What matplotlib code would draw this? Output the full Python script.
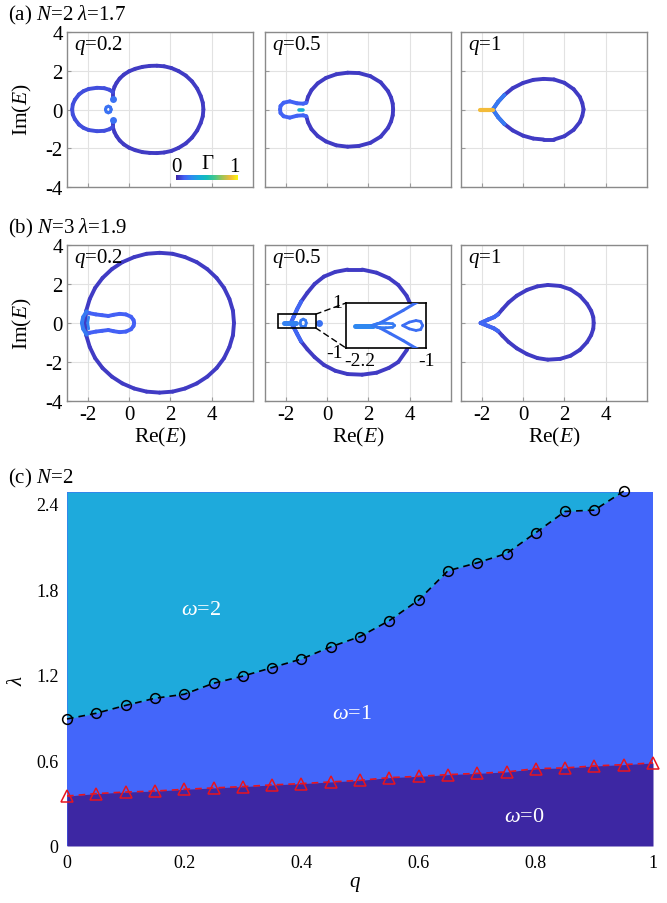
import numpy as np
import matplotlib
matplotlib.use("Agg")
import matplotlib.pyplot as plt
from matplotlib.collections import LineCollection
from matplotlib.colors import LinearSegmentedColormap
from matplotlib.patches import Rectangle, ConnectionPatch

plt.rcParams['font.family'] = ['Liberation Serif', 'DejaVu Serif']
plt.rcParams['mathtext.fontset'] = 'custom'
plt.rcParams['mathtext.rm'] = 'Liberation Serif'
plt.rcParams['mathtext.it'] = 'Liberation Serif:italic'
plt.rcParams['axes.unicode_minus'] = False

# parula-like colour map for Gamma
parula = LinearSegmentedColormap.from_list("parula_like", [
    (0.0, '#3E26A8'), (0.13, '#4360F5'), (0.25, '#2D8CF0'), (0.38, '#15ADD9'),
    (0.5, '#14BEB8'), (0.63, '#48C88A'), (0.75, '#A2C455'), (0.88, '#F3BA3A'),
    (1.0, '#F9FB0E')])

# ---------------- data: panel (a), N=2, lambda=1.7 ----------------
a1_big_re = [-0.78, -0.78, -0.7, -0.6, -0.45, -0.25, 0.0, 0.3, 0.65, 1.0, 1.35, 1.7, 2.05, 2.4,
             2.75, 3.05, 3.3, 3.47, 3.57, 3.6,
             3.57, 3.47, 3.3, 3.05, 2.75, 2.4, 2.05, 1.7, 1.35, 1.0, 0.65, 0.3, 0.0, -0.25,
             -0.45, -0.6, -0.7, -0.78, -0.78]
a1_big_im = [0.52, 0.92, 1.18, 1.38, 1.6, 1.8, 1.97, 2.1, 2.2, 2.25, 2.26, 2.23, 2.14, 1.98,
             1.75, 1.45, 1.08, 0.7, 0.35, 0.0,
             -0.35, -0.7, -1.08, -1.45, -1.75, -1.98, -2.14, -2.22, -2.25, -2.24, -2.2, -2.1,
             -1.97, -1.8, -1.6, -1.38, -1.18, -0.92, -0.52]
a1_lobe_re = [-0.78, -0.95, -1.2, -1.55, -1.95, -2.2, -2.42, -2.62, -2.72, -2.75,
              -2.72, -2.62, -2.42, -2.2, -1.95, -1.55, -1.2, -0.95, -0.78]
a1_lobe_im = [0.9, 1.02, 1.1, 1.12, 1.06, 0.95, 0.78, 0.5, 0.26, 0.0,
              -0.26, -0.5, -0.78, -0.95, -1.06, -1.12, -1.1, -1.02, -0.9]
a1_ring_re = [-0.86, -0.9, -1.0, -1.1, -1.14, -1.1, -1.0, -0.9, -0.86]
a1_ring_im = [0.0, 0.12, 0.17, 0.12, 0.0, -0.12, -0.17, -0.12, 0.0]
a1_dot_re = [-0.78, -0.78]
a1_dot_im = [0.52, -0.52]

a2_big_re = [-1.0, -0.92, -0.75, -0.45, -0.05, 0.45, 1.0, 1.55, 2.1, 2.6, 2.95, 3.1, 3.18, 3.2,
             3.18, 3.1, 2.95, 2.6, 2.1, 1.55, 1.0, 0.45, -0.05, -0.45, -0.75, -0.92, -1.0]
a2_big_im = [0.35, 0.65, 1.0, 1.35, 1.63, 1.82, 1.9, 1.88, 1.72, 1.4, 0.95, 0.62, 0.3, 0.0,
             -0.3, -0.62, -0.95, -1.4, -1.72, -1.88, -1.92, -1.85, -1.65, -1.37, -1.02, -0.66,
             -0.35]
a2_lobe_re = [-1.0, -1.15, -1.45, -1.8, -2.1, -2.25, -2.27, -2.25, -2.1, -1.8, -1.45, -1.15, -1.0]
a2_lobe_im = [0.35, 0.3, 0.32, 0.42, 0.35, 0.18, 0.0, -0.18, -0.35, -0.42, -0.32, -0.3, -0.35]
a2_dash_re = [-1.35, -1.15]
a2_dash_im = [0.0, 0.0]

a3_re = [-1.46, -1.2, -0.9, -0.5, 0.0, 0.5, 1.0, 1.5, 2.0, 2.45, 2.75, 2.87, 2.93,
         2.87, 2.75, 2.45, 2.0, 1.5, 1.0, 0.5, 0.0, -0.5, -0.9, -1.2, -1.46]
a3_im = [0.0, 0.4, 0.75, 1.1, 1.37, 1.53, 1.58, 1.55, 1.38, 1.05, 0.65, 0.33, 0.0,
         -0.33, -0.65, -1.05, -1.38, -1.55, -1.55, -1.5, -1.35, -1.08, -0.75, -0.4, 0.0]
a3_cusp_re = [-0.9, -1.2, -1.46, -1.2, -0.9]
a3_cusp_im = [0.75, 0.4, 0.0, -0.4, -0.75]
a3_tail_re = [-2.07, -1.46]
a3_tail_im = [0.0, 0.0]

# ---------------- data: panel (b), N=3, lambda=1.9 ----------------
b1_big_re = [5.08, 5.03, 4.86, 4.6, 4.24, 3.79, 3.28, 2.71, 2.11, 1.48, 0.85, 0.25, -0.32, -0.83,
             -1.28, -1.64, -1.9, -2.07, -2.12,
             -2.07, -1.9, -1.64, -1.28, -0.83, -0.32, 0.25, 0.85, 1.48, 2.11, 2.71, 3.28, 3.79,
             4.24, 4.6, 4.86, 5.03, 5.08]
b1_big_im = [0.0, 0.63, 1.23, 1.8, 2.31, 2.76, 3.12, 3.38, 3.55, 3.6, 3.55, 3.38, 3.12, 2.76,
             2.31, 1.8, 1.23, 0.63, 0.0,
             -0.63, -1.23, -1.8, -2.31, -2.75, -3.1, -3.36, -3.52, -3.57, -3.52, -3.36, -3.1,
             -2.75, -2.31, -1.8, -1.23, -0.63, 0.0]
b1_in_re = [-2.05, -1.9, -1.6, -1.3, -1.0, -0.75, -0.45, -0.15, 0.1, 0.22, 0.25,
            0.22, 0.1, -0.15, -0.45, -0.75, -1.0, -1.3, -1.6, -1.9, -2.05]
b1_in_im = [0.55, 0.5, 0.44, 0.4, 0.36, 0.42, 0.47, 0.44, 0.32, 0.15, 0.0,
            -0.15, -0.32, -0.44, -0.47, -0.42, -0.36, -0.4, -0.44, -0.5, -0.55]
b1_left_re = [-2.05, -2.22, -2.28, -2.22, -2.05]
b1_left_im = [0.6, 0.3, 0.0, -0.3, -0.6]
b1_mid_re = [-1.95, -2.0, -1.95]
b1_mid_im = [0.3, 0.0, -0.3]

b2_big_re = [-1.75, -1.62, -1.45, -1.25, -0.95, -0.6, -0.15, 0.4, 1.0, 1.7, 2.4, 3.0, 3.45, 3.85,
             4.15, 4.3, 4.15, 3.85, 3.45, 3.0, 2.4, 1.7, 1.0, 0.4, -0.15, -0.6, -0.95, -1.25,
             -1.45, -1.62, -1.75]
b2_big_im = [0.0, 0.3, 0.7, 1.1, 1.55, 2.0, 2.38, 2.62, 2.74, 2.74, 2.58, 2.3, 1.95, 1.4,
             0.7, 0.0, -0.7, -1.4, -2.0, -2.3, -2.55, -2.65, -2.62, -2.45, -2.15, -1.75, -1.35,
             -0.95, -0.55, -0.2, 0.0]
b2_cusp_re = [-1.25, -1.45, -1.62, -1.75, -1.62, -1.45, -1.25]
b2_cusp_im = [1.1, 0.7, 0.3, 0.0, -0.2, -0.55, -0.95]
b2_line_re = [-2.1, -1.5]
b2_line_im = [0.0, 0.0]
b2_ring_re = [-1.0, -1.04, -1.15, -1.26, -1.3, -1.26, -1.15, -1.04, -1.0]
b2_ring_im = [0.0, 0.14, 0.2, 0.14, 0.0, -0.14, -0.2, -0.14, 0.0]
b2_dot_re = [-0.4]
b2_dot_im = [0.0]
b2_box = [-2.35, -0.55, -0.25, 0.45]   # x0, x1, y0, y1 of zoom box

# inset of b2
ins_up_re = [-1.1, -1.158, -1.343, -1.54, -1.69, -1.81]
ins_up_im = [1.08, 1.0, 0.67, 0.35, 0.11, 0.0]
ins_dn_re = [-1.81, -1.69, -1.54, -1.343, -1.158, -1.1]
ins_dn_im = [0.0, -0.11, -0.35, -0.67, -1.0, -1.08]
ins_blob_re = [-2.06, -1.8]
ins_blob_im = [0.0, 0.0]
ins_loop1_re = [-1.81, -1.72, -1.6, -1.5, -1.47, -1.5, -1.6, -1.72, -1.81]
ins_loop1_im = [0.0, 0.09, 0.1, 0.08, 0.0, -0.08, -0.1, -0.09, 0.0]
ins_loop2_re = [-1.35, -1.25, -1.15, -1.08, -1.05, -1.08, -1.15, -1.25, -1.35]
ins_loop2_im = [0.0, 0.15, 0.22, 0.18, 0.0, -0.18, -0.22, -0.15, 0.0]

b3_re = [-2.05, -1.7, -1.4, -1.2, -1.0, -0.7, -0.3, 0.2, 0.7, 1.2, 1.8, 2.3, 2.75, 3.1, 3.3, 3.4,
         3.42, 3.4, 3.3, 3.1, 2.75, 2.3, 1.8, 1.2, 0.7, 0.2, -0.3, -0.7, -1.0, -1.2, -1.4, -1.7,
         -2.05]
b3_im = [0.0, 0.17, 0.3, 0.45, 0.7, 1.05, 1.4, 1.7, 1.88, 1.95, 1.9, 1.72, 1.4, 0.98, 0.62,
         0.3, 0.0, -0.3, -0.62, -0.98, -1.38, -1.68, -1.84, -1.88, -1.8, -1.6, -1.3, -0.97,
         -0.65, -0.42, -0.28, -0.15, 0.0]
b3_tip_re = [-1.2, -1.4, -1.7, -2.05, -1.7, -1.4, -1.2]
b3_tip_im = [0.45, 0.3, 0.17, 0.0, -0.15, -0.28, -0.42]

# ---------------- data: panel (c), N=2 phase diagram ----------------
q_circ = [0.0, 0.05, 0.1, 0.15, 0.2, 0.25, 0.3, 0.35, 0.4, 0.45, 0.5, 0.55, 0.6, 0.65,
          0.7, 0.75, 0.8, 0.85, 0.9, 0.95]
lam_circ = [0.89, 0.93, 0.985, 1.035, 1.063, 1.14, 1.19, 1.25, 1.31, 1.395, 1.467, 1.579,
            1.723, 1.928, 1.984, 2.049, 2.195, 2.344, 2.353, 2.486]
q_tri = [0.0, 0.05, 0.1, 0.15, 0.2, 0.25, 0.3, 0.35, 0.4, 0.45, 0.5, 0.55, 0.6, 0.65,
         0.7, 0.75, 0.8, 0.85, 0.9, 0.95, 1.0]
lam_tri = [0.35, 0.367, 0.378, 0.385, 0.397, 0.407, 0.416, 0.428, 0.437, 0.449, 0.46, 0.479,
           0.488, 0.5, 0.509, 0.519, 0.542, 0.547, 0.561, 0.57, 0.582]
lam_top = 2.48
c_xticks = [0, 0.2, 0.4, 0.6, 0.8, 1]
c_xlabels = ['0', '0.2', '0.4', '0.6', '0.8', '1']
c_yticks = [0, 0.6, 1.2, 1.8, 2.4]
c_ylabels = ['0', '0.6', '1.2', '1.8', '2.4']

col_w2 = '#1EAADC'
col_w1 = '#4366FA'
col_w0 = '#3D27A3'

FS = 15


def draw_curve(ax, re, im, g, lw=2.8, zorder=3):
    pts = np.column_stack([re, im])
    segs = np.stack([pts[:-1], pts[1:]], axis=1)
    lc = LineCollection(segs, colors=[parula(g)], linewidths=lw,
                        capstyle='round', joinstyle='round', zorder=zorder)
    ax.add_collection(lc)


def style_spec(ax, show_x, show_y):
    ax.set_xlim(-3, 6)
    ax.set_ylim(-4, 4)
    ax.set_xticks([-2, 0, 2, 4])
    ax.set_yticks([-4, -2, 0, 2, 4])
    ax.grid(color='#e2e2e2', lw=0.8)
    ax.set_axisbelow(True)
    for s in ax.spines.values():
        s.set_color('#8a8a8a')
        s.set_linewidth(1.0)
    ax.tick_params(direction='in', length=3, color='#9a9a9a', labelsize=FS, pad=3,
                   labelbottom=show_x, labelleft=show_y)


fig = plt.figure(figsize=(6.67, 9.04), dpi=100)

lefts = [67, 265, 461]
axa = [fig.add_axes([l / 667, 1 - 188 / 904, 186 / 667, 155 / 904]) for l in lefts]
axb = [fig.add_axes([l / 667, 1 - 402 / 904, 186 / 667, 156 / 904]) for l in lefts]

for i, ax in enumerate(axa):
    style_spec(ax, False, i == 0)
for i, ax in enumerate(axb):
    style_spec(ax, True, i == 0)

qlabels = ['$q$=0.2', '$q$=0.5', '$q$=1']
for row in (axa, axb):
    for ax, t in zip(row, qlabels):
        ax.text(0.04, 0.92, t, transform=ax.transAxes, fontsize=FS, va='center', zorder=6)

# (a) q=0.2
ax = axa[0]
draw_curve(ax, a1_big_re, a1_big_im, 0.05)
draw_curve(ax, a1_lobe_re, a1_lobe_im, 0.09)
draw_curve(ax, a1_ring_re, a1_ring_im, 0.18, lw=2.2)
ax.plot(a1_dot_re, a1_dot_im, 'o', ms=5, color=parula(0.18), mec='none', zorder=4)
cax = ax.inset_axes([0.586, 0.045, 0.332, 0.03])
cax.imshow(np.linspace(0, 1, 256)[None, :], aspect='auto', cmap=parula, extent=[0, 1, 0, 1])
cax.set_axis_off()
ax.text(0.59, 0.135, '0', transform=ax.transAxes, fontsize=FS, ha='center', va='center')
ax.text(0.755, 0.15, r'$\Gamma$', transform=ax.transAxes, fontsize=FS, ha='center', va='center')
ax.text(0.90, 0.135, '1', transform=ax.transAxes, fontsize=FS, ha='center', va='center')

# (a) q=0.5
ax = axa[1]
draw_curve(ax, a2_big_re, a2_big_im, 0.05)
draw_curve(ax, a2_lobe_re, a2_lobe_im, 0.14)
draw_curve(ax, a2_dash_re, a2_dash_im, 0.4, lw=2.6)

# (a) q=1
ax = axa[2]
draw_curve(ax, a3_re, a3_im, 0.05)
draw_curve(ax, a3_cusp_re, a3_cusp_im, 0.2)
draw_curve(ax, a3_tail_re, a3_tail_im, 0.88, lw=3.0)

# (b) q=0.2
ax = axb[0]
draw_curve(ax, b1_big_re, b1_big_im, 0.05)
draw_curve(ax, b1_in_re, b1_in_im, 0.13)
draw_curve(ax, b1_left_re, b1_left_im, 0.2)
draw_curve(ax, b1_mid_re, b1_mid_im, 0.22, lw=2.0)

# (b) q=0.5
ax = axb[1]
draw_curve(ax, b2_big_re, b2_big_im, 0.05)
draw_curve(ax, b2_cusp_re, b2_cusp_im, 0.15)
draw_curve(ax, b2_line_re, b2_line_im, 0.22, lw=3.6)
draw_curve(ax, b2_ring_re, b2_ring_im, 0.2, lw=2.0)
ax.plot(b2_dot_re, b2_dot_im, 'o', ms=5, color=parula(0.18), mec='none', zorder=4)
x0, x1, y0, y1 = b2_box
ax.add_patch(Rectangle((x0, y0), x1 - x0, y1 - y0, fill=False, ec='black', lw=1.2, zorder=5))

ins = fig.add_axes([346 / 667, 1 - 349 / 904, 80 / 667, 45 / 904])
ins.set_facecolor('white')
ins.set_xlim(-2.2, -1)
ins.set_ylim(-1, 1)
draw_curve(ins, ins_up_re, ins_up_im, 0.17, lw=2.2)
draw_curve(ins, ins_dn_re, ins_dn_im, 0.17, lw=2.2)
draw_curve(ins, ins_blob_re, ins_blob_im, 0.24, lw=3.6)
draw_curve(ins, ins_loop1_re, ins_loop1_im, 0.2, lw=2.0)
draw_curve(ins, ins_loop2_re, ins_loop2_im, 0.17, lw=2.0)
ins.set_xticks([])
ins.set_yticks([])
# tick values of the inset, written at its corners as in the original
ins.text(-0.05, 1.0, '1', transform=ins.transAxes, fontsize=FS - 1, ha='right', va='center')
ins.text(-0.04, -0.1, '-1', transform=ins.transAxes, fontsize=FS - 1, ha='right', va='center')
ins.text(-0.02, -0.27, '-2.2', transform=ins.transAxes, fontsize=FS - 1, ha='left', va='center')
ins.text(1.0, -0.27, '-1', transform=ins.transAxes, fontsize=FS - 1, ha='center', va='center')
for s in ins.spines.values():
    s.set_color('black')
    s.set_linewidth(1.2)
for (xa, ya), (xb, yb) in [((x1, y1), (0, 1)), ((x1, y0), (0, 0))]:
    con = ConnectionPatch(xyA=(xa, ya), coordsA=ax.transData, xyB=(xb, yb),
                          coordsB=ins.transAxes, ls=(0, (4, 3)), color='black', lw=1.0)
    fig.add_artist(con)

# (b) q=1
ax = axb[2]
draw_curve(ax, b3_re, b3_im, 0.05)
draw_curve(ax, b3_tip_re, b3_tip_im, 0.15)

# labels
fig.text(8 / 667, 1 - 15 / 904, r'(a) $N$=2 $\lambda$=1.7', fontsize=FS, va='center')
fig.text(8 / 667, 1 - 228 / 904, r'(b) $N$=3 $\lambda$=1.9', fontsize=FS, va='center')
fig.text(8 / 667, 1 - 478 / 904, r'(c) $N$=2', fontsize=FS, va='center')
for yc in (110, 324):
    fig.text(22 / 667, 1 - yc / 904, r'Im($E$)', fontsize=FS + 0.5, rotation=90,
             ha='center', va='center')
for l in lefts:
    fig.text((l + 93) / 667, 1 - 437 / 904, r'Re($E$)', fontsize=FS + 0.5,
             ha='center', va='center')

# (c) phase diagram
axc = fig.add_axes([67 / 667, 1 - 847 / 904, 586 / 667, 354 / 904])
axc.set_facecolor(col_w1)
axc.fill_between(q_circ, lam_circ, lam_top, color=col_w2, lw=0)
axc.fill_between(q_tri, 0, lam_tri, color=col_w0, lw=0)
axc.plot(q_circ, lam_circ, ls=(0, (4, 3)), color='black', lw=1.2, marker='o', ms=7,
         mfc='none', mec='black', mew=1.1, clip_on=False, zorder=4)
axc.plot(q_tri, lam_tri, ls=(0, (4, 3)), color='#E8141E', lw=1.2, marker='^', ms=8,
         mfc='none', mec='#E8141E', mew=1.1, clip_on=False, zorder=4)
axc.set_xlim(0, 1)
axc.set_ylim(0, lam_top)
axc.set_xticks(c_xticks)
axc.set_xticklabels(c_xlabels)
axc.set_yticks(c_yticks)
axc.set_yticklabels(c_ylabels)
axc.tick_params(length=0, labelsize=13, pad=6)
for s in axc.spines.values():
    s.set_visible(False)
axc.text(0.228, 1.66, r'$\omega$=2', color='white', fontsize=16, ha='center', va='center')
axc.text(0.486, 0.93, r'$\omega$=1', color='white', fontsize=16, ha='center', va='center')
axc.text(0.78, 0.21, r'$\omega$=0', color='white', fontsize=16, ha='center', va='center')
fig.text(17 / 667, 1 - 680 / 904, r'$\lambda$', fontsize=FS, rotation=90, ha='center', va='center')
fig.text(355 / 667, 1 - 885 / 904, r'$q$', fontsize=FS, ha='center', va='center')

fig.savefig('out.png', dpi=100)
